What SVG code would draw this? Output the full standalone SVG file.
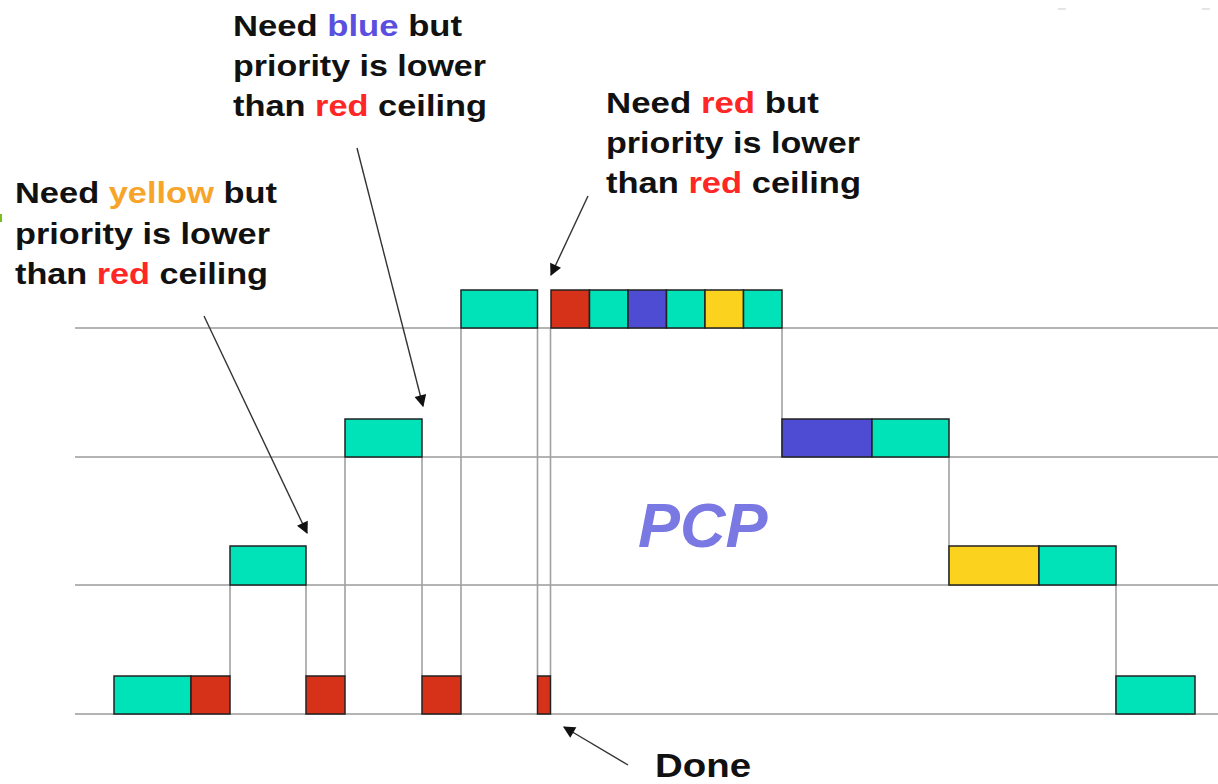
<svg xmlns="http://www.w3.org/2000/svg" width="1218" height="784" viewBox="0 0 1218 784">
<style>
.lvl{stroke:#b4b4b4;stroke-width:2;fill:none}
.v{stroke:#a0a0a0;stroke-width:1.6;fill:none}
.b{stroke:#222;stroke-width:1.5}
.t{fill:#00E2B8}.r{fill:#D53219}.u{fill:#4D4CD2}.y{fill:#FBD31F}
.lab{font-family:"Liberation Sans",Arial,sans-serif;font-weight:bold;font-size:29px;fill:#111}
.arr{stroke:#333;stroke-width:1.4;fill:none;marker-end:url(#ah)}
</style>
<defs>
<marker id="ah" viewBox="0 0 10 10" refX="9" refY="5" markerWidth="14" markerHeight="12" markerUnits="userSpaceOnUse" orient="auto">
<path d="M0,0 L10,5 L0,10 z" fill="#111"/>
</marker>
</defs>
<rect width="1218" height="784" fill="#fff"/>
<rect x="0" y="214" width="2" height="8" fill="#7bbf1e"/>
<line x1="1058" y1="9" x2="1066" y2="9" stroke="#ddd" stroke-width="1.5"/>
<line x1="1202" y1="9" x2="1210" y2="9" stroke="#ddd" stroke-width="1.5"/>
<g id="levels">
<line class="lvl" x1="75" y1="328" x2="1218" y2="328"/>
<line class="lvl" x1="75" y1="457" x2="1218" y2="457"/>
<line class="lvl" x1="75" y1="585" x2="1218" y2="585"/>
<line class="lvl" x1="75" y1="714" x2="1218" y2="714"/>
</g>
<g id="connectors">
<line class="v" x1="230" y1="676" x2="230" y2="585"/>
<line class="v" x1="306" y1="585" x2="306" y2="676"/>
<line class="v" x1="345" y1="676" x2="345" y2="457"/>
<line class="v" x1="422" y1="457" x2="422" y2="676"/>
<line class="v" x1="461" y1="676" x2="461" y2="328"/>
<line class="v" x1="537.5" y1="328" x2="537.5" y2="676"/>
<line class="v" x1="550.5" y1="676" x2="550.5" y2="328"/>
<line class="v" x1="782" y1="328" x2="782" y2="457"/>
<line class="v" x1="949" y1="457" x2="949" y2="585"/>
<line class="v" x1="1116" y1="585" x2="1116" y2="714"/>
<line class="arr" x1="204" y1="316" x2="307" y2="533"/>
<line class="arr" x1="357" y1="148" x2="423" y2="406"/>
<line class="arr" x1="588" y1="196" x2="551" y2="275"/>
<line class="arr" x1="628" y1="765" x2="564" y2="727"/>
</g>
<g id="level0">
<rect class="b t" x="114" y="676" width="77" height="38"/>
<rect class="b r" x="191" y="676" width="39" height="38"/>
<rect class="b r" x="306" y="676" width="39" height="38"/>
<rect class="b r" x="422" y="676" width="39" height="38"/>
<rect class="b r" x="537.5" y="676" width="13" height="38"/>
<rect class="b t" x="1116" y="676" width="79" height="38"/>
</g>
<g id="level1">
<rect class="b t" x="230" y="546" width="76" height="39"/>
<rect class="b y" x="949" y="546" width="90" height="39"/>
<rect class="b t" x="1039" y="546" width="77" height="39"/>
</g>
<g id="level2">
<rect class="b t" x="345" y="419" width="77" height="38"/>
<rect class="b u" x="782" y="419" width="90" height="38"/>
<rect class="b t" x="872" y="419" width="77" height="38"/>
</g>
<g id="level3">
<rect class="b t" x="461" y="290" width="76.5" height="38"/>
<rect class="b r" x="551" y="290" width="38.5" height="38"/>
<rect class="b t" x="589.5" y="290" width="38.5" height="38"/>
<rect class="b u" x="628" y="290" width="38.5" height="38"/>
<rect class="b t" x="666.5" y="290" width="38.5" height="38"/>
<rect class="b y" x="705" y="290" width="38.5" height="38"/>
<rect class="b t" x="743.5" y="290" width="38.5" height="38"/>
</g>
<g id="label-yellow">
<text class="lab" x="15" y="203" textLength="262" lengthAdjust="spacingAndGlyphs">Need <tspan fill="#F6A52A">yellow</tspan> but</text>
<text class="lab" x="15" y="244" textLength="255" lengthAdjust="spacingAndGlyphs">priority is lower</text>
<text class="lab" x="15" y="284" textLength="253" lengthAdjust="spacingAndGlyphs">than <tspan fill="#FF2626">red</tspan> ceiling</text>
</g>
<g id="label-blue">
<text class="lab" x="233" y="36" textLength="229" lengthAdjust="spacingAndGlyphs">Need <tspan fill="#5A4FDF">blue</tspan> but</text>
<text class="lab" x="233" y="76" textLength="253" lengthAdjust="spacingAndGlyphs">priority is lower</text>
<text class="lab" x="233" y="116" textLength="254" lengthAdjust="spacingAndGlyphs">than <tspan fill="#FF2626">red</tspan> ceiling</text>
</g>
<g id="label-red">
<text class="lab" x="606" y="113" textLength="213" lengthAdjust="spacingAndGlyphs">Need <tspan fill="#FF2626">red</tspan> but</text>
<text class="lab" x="606" y="153" textLength="254" lengthAdjust="spacingAndGlyphs">priority is lower</text>
<text class="lab" x="606" y="193" textLength="255" lengthAdjust="spacingAndGlyphs">than <tspan fill="#FF2626">red</tspan> ceiling</text>
</g>
<g id="label-done">
<text class="lab" x="655" y="777" style="font-size:33px" textLength="96" lengthAdjust="spacingAndGlyphs">Done</text>
</g>
<g id="label-pcp">
<text x="638" y="547" font-family="Liberation Sans,Arial,sans-serif" font-weight="bold" font-style="italic" font-size="63" fill="#7A78E2">PCP</text>
</g>
</svg>
